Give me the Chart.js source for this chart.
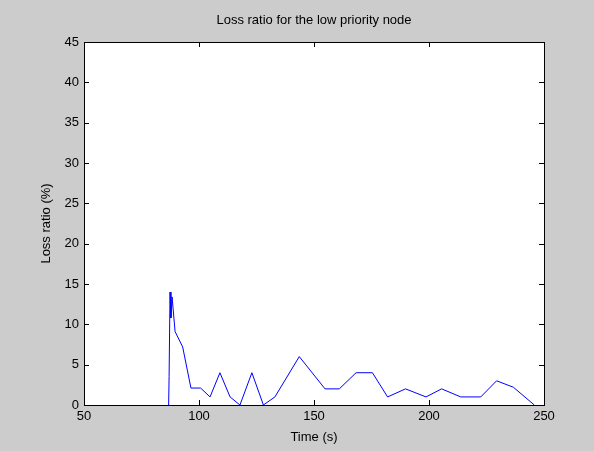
<!DOCTYPE html>
<html>
<head>
<meta charset="utf-8">
<script src="https://cdn.jsdelivr.net/npm/chart.js@4.4.0/dist/chart.umd.min.js"></script>
<style>
  html, body { margin: 0; padding: 0; background: #cccccc; }
  #wrap { width: 594px; height: 451px; }
</style>
</head>
<body>
<div id="wrap"><canvas id="lossChart" width="594" height="451"></canvas></div>
<script>
// Data
var times = [86.8, 87.0, 87.4, 87.8, 88.3, 89.6, 92.9, 96.5, 100.7, 104.8, 109.1, 113.5, 117.8, 123.0, 128.0,
    133.0, 143.6, 154.8, 161.0, 168.3, 175.4, 182.0, 189.8, 198.7, 205.5, 213.8, 222.5, 229.4, 236.7, 245.8];
var lossRatio = [0, 3.5, 14, 10.8, 13.4, 9.1, 7.2, 2.1, 2.1, 1.0, 4.0, 1.0, 0, 4.0, 0,
    1.0, 6.0, 2.0, 2.0, 4.0, 4.0, 1.0, 2.0, 1.0, 2.0, 1.0, 1.0, 3.0, 2.2, 0];
var xTicks = [50, 100, 150, 200, 250];
var yTicks = [0, 5, 10, 15, 20, 25, 30, 35, 40, 45];
var chartTitle = 'Loss ratio for the low priority node';

var points = times.map(function (t, i) { return { x: t, y: lossRatio[i] }; });

var font = { family: 'Liberation Sans, Arial, sans-serif', size: 13 };

// Grey figure, white axes, black box and inward ticks (MATLAB look)
var matlabFrame = {
    id: 'matlabFrame',
    beforeDraw: function (chart) {
        var ctx = chart.ctx, a = chart.chartArea;
        ctx.save();
        ctx.fillStyle = '#cccccc';
        ctx.fillRect(0, 0, chart.width, chart.height);
        ctx.fillStyle = '#ffffff';
        ctx.fillRect(a.left, a.top, a.right - a.left, a.bottom - a.top);
        ctx.restore();
    },
    afterDraw: function (chart) {
        var ctx = chart.ctx, a = chart.chartArea;
        var xs = chart.scales.x, ys = chart.scales.y;
        var len = 5;
        ctx.save();
        ctx.strokeStyle = '#000000';
        ctx.lineWidth = 1;
        ctx.beginPath();
        xs.ticks.forEach(function (t) {
            var px = Math.round(xs.getPixelForValue(t.value)) + 0.5;
            ctx.moveTo(px, a.bottom); ctx.lineTo(px, a.bottom - len);
            ctx.moveTo(px, a.top); ctx.lineTo(px, a.top + len);
        });
        ys.ticks.forEach(function (t) {
            var py = Math.round(ys.getPixelForValue(t.value)) + 0.5;
            ctx.moveTo(a.left, py); ctx.lineTo(a.left + len, py);
            ctx.moveTo(a.right, py); ctx.lineTo(a.right - len, py);
        });
        ctx.stroke();
        ctx.strokeRect(Math.round(a.left) + 0.5, Math.round(a.top) + 0.5,
            Math.round(a.right - a.left), Math.round(a.bottom - a.top));
        // title centred over the axes, like MATLAB does
        ctx.fillStyle = '#000000';
        ctx.font = font.size + 'px ' + font.family;
        ctx.textAlign = 'center';
        ctx.textBaseline = 'middle';
        ctx.fillText(chartTitle, (a.left + a.right) / 2, 20);
        ctx.restore();
    }
};

var ctx = document.getElementById('lossChart').getContext('2d');
var lossChart = new Chart(ctx, {
    type: 'line',
    data: {
        datasets: [{
            label: 'Loss ratio',
            data: points,
            borderColor: '#0000ff',
            borderWidth: 1,
            pointRadius: 0,
            tension: 0,
            fill: false
        }]
    },
    options: {
        responsive: false,
        animation: false,
        layout: { padding: { left: 0, right: 50, top: 42, bottom: 0 } },
        plugins: {
            legend: { display: false },
            tooltip: { enabled: false },
            title: { display: false }
        },
        scales: {
            x: {
                type: 'linear',
                min: 50,
                max: 250,
                afterBuildTicks: function (scale) {
                    scale.ticks = xTicks.map(function (v) { return { value: v }; });
                },
                afterFit: function (scale) { scale.height = 46; },
                grid: { display: false, drawTicks: false },
                border: { display: false },
                ticks: { color: '#000000', font: font, padding: 4, maxRotation: 0, autoSkip: false },
                title: {
                    display: true,
                    text: 'Time (s)',
                    color: '#000000',
                    font: font,
                    padding: { top: 0, bottom: 6 }
                }
            },
            y: {
                type: 'linear',
                min: 0,
                max: 45,
                afterBuildTicks: function (scale) {
                    scale.ticks = yTicks.map(function (v) { return { value: v }; });
                },
                afterFit: function (scale) { scale.width = 84; },
                grid: { display: false, drawTicks: false },
                border: { display: false },
                ticks: { color: '#000000', font: font, padding: 5, autoSkip: false },
                title: {
                    display: true,
                    text: 'Loss ratio (%)',
                    color: '#000000',
                    font: font,
                    padding: { top: 39, bottom: 0 }
                }
            }
        }
    },
    plugins: [matlabFrame]
});
</script>
</body>
</html>
